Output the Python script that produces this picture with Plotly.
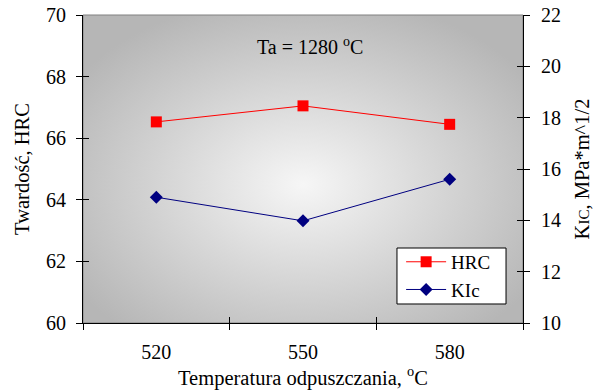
import base64
import plotly.graph_objects as go

temps = ["520", "550", "580"]
hrc = [66.53, 67.05, 66.45]
kic = [14.9, 13.98, 15.6]
y_left_ticks = [60, 62, 64, 66, 68, 70]
y_right_ticks = [10, 12, 14, 16, 18, 20, 22]

FONT = "Liberation Serif"
FS = 20
TFS = 20.5

svg = """<svg xmlns='http://www.w3.org/2000/svg' width='440' height='308' viewBox='0 0 440 308' preserveAspectRatio='none'>
<defs><radialGradient id='g' cx='0.5' cy='0.55' r='0.62'>
<stop offset='0' stop-color='#f6f6f6'/><stop offset='1' stop-color='#b6b6b6'/>
</radialGradient></defs><rect width='440' height='308' fill='url(#g)'/></svg>"""
uri = "data:image/svg+xml;base64," + base64.b64encode(svg.encode()).decode()

fig = go.Figure()
fig.add_trace(go.Scatter(x=temps, y=hrc, name="HRC", mode="lines+markers",
                         line=dict(color="#ff0000", width=1),
                         marker=dict(symbol="square", size=11, color="#ff0000"),
                         yaxis="y"))
fig.add_trace(go.Scatter(x=temps, y=kic, name="KIc", mode="lines+markers",
                         line=dict(color="#000080", width=1),
                         marker=dict(symbol="diamond", size=10, color="#000080"),
                         yaxis="y2"))

tickfont = dict(family=FONT, size=FS, color="black")
fig.update_layout(
    width=595, height=390,
    margin=dict(l=83, r=72, t=15, b=67, autoexpand=False),
    paper_bgcolor="white", plot_bgcolor="rgba(0,0,0,0)",
    font=dict(family=FONT, size=FS, color="black"),
    showlegend=True,
    legend=dict(x=0.723, y=0.26, xanchor="left", yanchor="top",
                bgcolor="rgba(0,0,0,0)", borderwidth=0,
                font=dict(family=FONT, size=19), tracegroupgap=0,
                itemwidth=40),
    xaxis=dict(type="category", categoryorder="array", categoryarray=temps,
               range=[-0.5, 2.5], tickson="boundaries", ticks="outside", ticklen=6,
               tickcolor="black", showline=True, linecolor="black", linewidth=1,
               showgrid=False, zeroline=False, tickfont=tickfont, automargin=False,
               ticklabelstandoff=11,
               title=dict(text="Temperatura odpuszczania, <sup>o</sup>C", standoff=3,
                          font=dict(family=FONT, size=TFS))),
    xaxis3=dict(overlaying="x", range=[-0.5, 2.5], tickvals=[-0.5, 0.5, 1.5, 2.5],
                ticks="inside", ticklen=6, tickcolor="black", showticklabels=False,
                showgrid=False, zeroline=False, showline=False, automargin=False),
    yaxis=dict(range=[60, 70], tickvals=y_left_ticks, ticks="outside", ticklen=6,
               tickcolor="black", showline=True, linecolor="black", linewidth=1,
               showgrid=False, zeroline=False, tickfont=tickfont, automargin=False,
               ticklabelstandoff=6,
               title=dict(text="Twardość, HRC", standoff=10,
                          font=dict(family=FONT, size=TFS))),
    yaxis3=dict(overlaying="y", side="left", range=[60, 70], tickvals=y_left_ticks,
                ticks="inside", ticklen=6, tickcolor="black", showticklabels=False,
                showgrid=False, zeroline=False, showline=False, automargin=False),
    yaxis2=dict(overlaying="y", side="right", range=[10, 22], tickvals=y_right_ticks,
                ticks="outside", ticklen=6, tickcolor="black", showline=True,
                linecolor="black", linewidth=1, showgrid=False, zeroline=False,
                tickfont=tickfont, automargin=False, ticklabelstandoff=7,
                title=dict(text="K<span style='font-size:15px'>IC</span>, MPa*m^1/2",
                           standoff=14, font=dict(family=FONT, size=TFS))),
    yaxis4=dict(overlaying="y", side="right", range=[10, 22], tickvals=y_right_ticks,
                ticks="inside", ticklen=6, tickcolor="black", showticklabels=False,
                showgrid=False, zeroline=False, showline=False, automargin=False),
    images=[dict(source=uri, xref="paper", yref="paper", x=0, y=1, sizex=1, sizey=1,
                 xanchor="left", yanchor="top", sizing="stretch", layer="below")],
    shapes=[dict(type="rect", xref="paper", yref="paper", x0=0, y0=0, x1=1, y1=1,
                 line=dict(color="#808080", width=1), layer="below"),
            dict(type="rect", xref="paper", yref="paper", x0=0.7136, y0=0.0617,
                 x1=0.9614, y1=0.2435, fillcolor="white",
                 line=dict(color="black", width=1), layer="above")],
    annotations=[dict(text="Ta = 1280 <sup>o</sup>C", xref="paper", yref="paper",
                      x=0.516, y=0.90, xanchor="center", yanchor="middle",
                      showarrow=False,
                      font=dict(family=FONT, size=FS, color="black"))],
)
fig.add_trace(go.Scatter(x=[None], y=[None], xaxis="x3", yaxis="y3", showlegend=False, hoverinfo="skip"))
fig.add_trace(go.Scatter(x=[None], y=[None], yaxis="y4", showlegend=False, hoverinfo="skip"))

fig.write_html("out.html", post_script="document.body.style.margin='0';",
               config={"displayModeBar": False})
